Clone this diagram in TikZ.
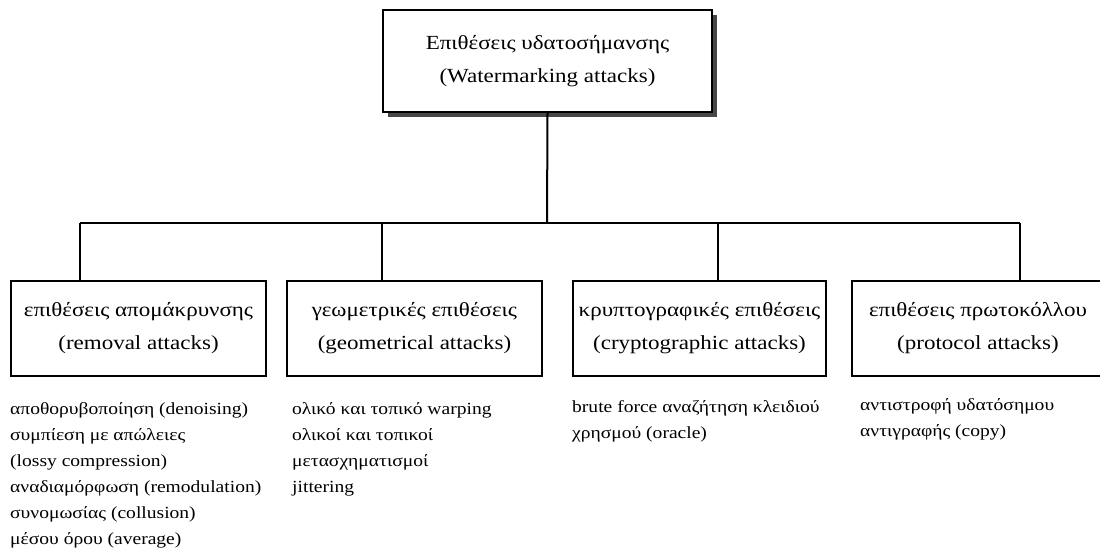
\documentclass[tikz,border=0pt]{standalone}
\usepackage{fontspec}
\setmainfont[FakeStretch=1.15]{Liberation Serif}
\usetikzlibrary{shadows}
\begin{document}
\begin{tikzpicture}[x=1pt,y=-1pt,
  boxtext/.style={font=\fontsize{20}{33}\selectfont, align=center},
  topbox/.style={draw, line width=2pt, fill=white, inner sep=0pt, boxtext,
    drop shadow={shadow xshift=5pt, shadow yshift=-5pt, fill=black!80, opacity=0.9}},
  catbox/.style={draw, line width=2pt, fill=white, inner sep=0pt, boxtext, minimum height=95pt},
  leaf/.style={anchor=north west, align=left, inner sep=0pt, font=\fontsize{17}{26}\selectfont},
  conn/.style={line width=2pt}]
\useasboundingbox (0,0) rectangle (1100,554);
\node[topbox, minimum width=329pt, minimum height=102pt] (top) at (547.5,61) {Επιθέσεις υδατοσήμανσης\\(Watermarking attacks)};
\node[catbox, minimum width=255pt] (b1) at (138.5,328.5) {επιθέσεις απομάκρυνσης\\(removal attacks)};
\node[catbox, minimum width=255pt] (b2) at (414.5,328.5) {γεωμετρικές επιθέσεις\\(geometrical attacks)};
\node[catbox, minimum width=253pt] (b3) at (699.5,328.5) {κρυπτογραφικές επιθέσεις\\(cryptographic attacks)};
\node[catbox, minimum width=252pt] (b4) at (978,328.5) {επιθέσεις πρωτοκόλλου\\(protocol attacks)};
\coordinate (bus) at (547,223);
\coordinate (j1) at (80,223);
\coordinate (j2) at (382,223);
\coordinate (j3) at (718,223);
\coordinate (j4) at (1020,223);
\draw[conn] (top.south) -- (bus);
\draw[conn] (j1) -- (j4);
\draw[conn] (j1) -- (j1 |- b1.north);
\draw[conn] (j2) -- (j2 |- b2.north);
\draw[conn] (j3) -- (j3 |- b3.north);
\draw[conn] (j4) -- (j4 |- b4.north);
\node[leaf] (l1) at (10,402) {αποθορυβοποίηση (denoising)\\συμπίεση με απώλειες\\(lossy compression)\\αναδιαμόρφωση (remodulation)\\συνομωσίας (collusion)\\μέσου όρου (average)};
\node[leaf] (l2) at (292,402) {ολικό και τοπικό warping\\ολικοί και τοπικοί\\μετασχηματισμοί\\jittering};
\node[leaf] (l3) at (572,400) {brute force αναζήτηση κλειδιού\\χρησμού (oracle)};
\node[leaf] (l4) at (860,398) {αντιστροφή υδατόσημου\\αντιγραφής (copy)};
\end{tikzpicture}
\end{document}
